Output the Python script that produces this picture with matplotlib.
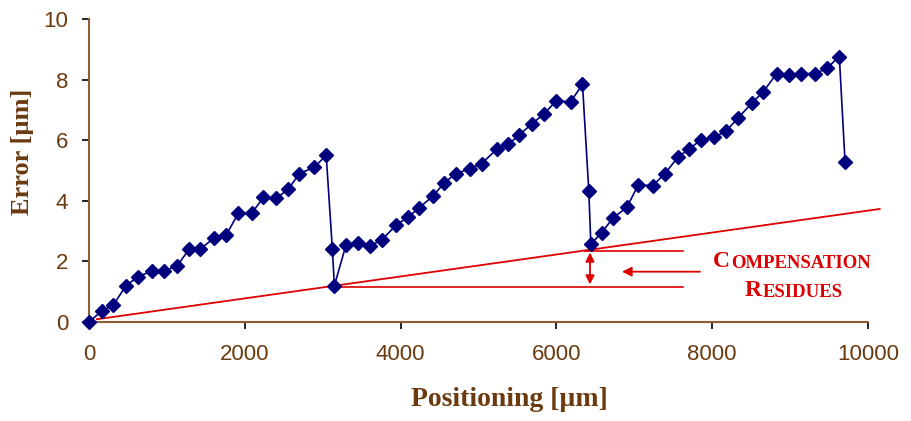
import matplotlib
matplotlib.use("Agg")
import matplotlib.pyplot as plt

# Measured error curve
pos_um = [0, 163, 312, 475, 633, 805, 967, 1134, 1284, 1425, 1605, 1759, 1917, 2089,
          2238, 2400, 2559, 2700, 2888, 3045, 3124, 3150, 3299, 3458, 3607, 3757,
          3941, 4091, 4240, 4420, 4557, 4707, 4891, 5041, 5233, 5383, 5520, 5691,
          5845, 5995, 6183, 6335, 6416, 6442, 6581, 6730, 6903, 7051, 7236, 7394,
          7557, 7702, 7852, 8023, 8177, 8335, 8507, 8656, 8828, 8986, 9140, 9320,
          9470, 9632, 9705]
error_um = [0.0, 0.36, 0.56, 1.2, 1.5, 1.68, 1.68, 1.86, 2.4, 2.4, 2.77, 2.86, 3.59, 3.59,
            4.11, 4.08, 4.38, 4.9, 5.1, 5.5, 2.4, 1.2, 2.54, 2.6, 2.52, 2.7,
            3.2, 3.45, 3.77, 4.17, 4.58, 4.9, 5.05, 5.23, 5.7, 5.86, 6.17, 6.55,
            6.88, 7.29, 7.27, 7.84, 4.32, 2.57, 2.95, 3.44, 3.78, 4.52, 4.5, 4.9,
            5.43, 5.71, 6.0, 6.09, 6.3, 6.74, 7.22, 7.6, 8.2, 8.15, 8.2, 8.2,
            8.37, 8.76, 5.29]

# Compensation trend line (endpoints)
trend_x = [100, 10150]
trend_y = [0.09, 3.73]

# Residue reference levels
residue_upper = 2.34
residue_lower = 1.14

x_ticks = [0, 2000, 4000, 6000, 8000, 10000]
y_ticks = [0, 2, 4, 6, 8, 10]

brown_txt = "#6B3A0F"
brown_axis = "#8B5E34"
navy = "#00007F"
red = "#DD0000"

fig = plt.figure(figsize=(9.11, 4.21), dpi=100)
ax = fig.add_axes([0.0977, 0.2352, 0.9528 - 0.0977, 0.9549 - 0.2352])

ax.plot(pos_um, error_um, color=navy, lw=1.2, marker="D", markersize=7.2,
        markerfacecolor=navy, markeredgecolor=navy, clip_on=False, zorder=4)
ax.plot(trend_x, trend_y, color=red, lw=1.3, clip_on=False, zorder=3)

ax.plot([3132, 7625], [residue_lower, residue_lower], color=red, lw=1.2, clip_on=False, zorder=3)
ax.plot([6367, 7625], [residue_upper, residue_upper], color=red, lw=1.2, clip_on=False, zorder=3)

ax.annotate("", xy=(6431, residue_lower + 0.1), xytext=(6431, residue_upper - 0.05),
            arrowprops=dict(arrowstyle="<|-|>", color=red, lw=1.3, mutation_scale=13,
                            shrinkA=0, shrinkB=0), zorder=5)
ax.annotate("", xy=(6842, 1.66), xytext=(7843, 1.66),
            arrowprops=dict(arrowstyle="-|>", color=red, lw=1.3, mutation_scale=14,
                            shrinkA=0, shrinkB=0), zorder=5)

serif = ["Liberation Serif", "DejaVu Serif"]


def small_caps(x, y, word, big=17, small=13.5):
    t1 = ax.text(x, y, word[0], color=red, fontsize=big, fontweight="bold",
                 family=serif, ha="left", va="baseline", clip_on=False)
    ax.annotate(word[1:].upper(), xy=(1.0, 0.0), xycoords=t1, xytext=(0.8, 0),
                textcoords="offset points", color=red, fontsize=small,
                fontweight="bold", family=serif, ha="left", va="bottom",
                annotation_clip=False)


small_caps(8010, 1.80, "Compensation")
small_caps(8420, 0.86, "Residues")

ax.set_xlim(0, 10000)
ax.set_ylim(0, 10)
ax.set_xticks(x_ticks)
ax.set_yticks(y_ticks)
ax.set_xticklabels([str(v) for v in x_ticks])
ax.set_yticklabels([str(v) for v in y_ticks])

for s in ["top", "right"]:
    ax.spines[s].set_visible(False)
for s in ["left", "bottom"]:
    ax.spines[s].set_color(brown_axis)
    ax.spines[s].set_linewidth(1.5)

ax.tick_params(axis="both", direction="out", length=5, width=1.2, color="black",
               labelcolor=brown_txt, labelsize=16)
ax.tick_params(axis="x", pad=11)
ax.tick_params(axis="y", pad=10)
for lab in ax.get_xticklabels() + ax.get_yticklabels():
    lab.set_family(["Liberation Sans", "DejaVu Sans"])

ax.set_xlabel("Positioning [µm]", fontsize=20, fontweight="bold", family=serif,
              color=brown_txt, va="center")
ax.set_ylabel("Error [µm]", fontsize=19, fontweight="bold", family=serif,
              color=brown_txt, va="center")
ax.xaxis.set_label_coords(0.54, -0.257)
ax.yaxis.set_label_coords(-0.085, 0.56)

fig.savefig("out.png", dpi=100)
